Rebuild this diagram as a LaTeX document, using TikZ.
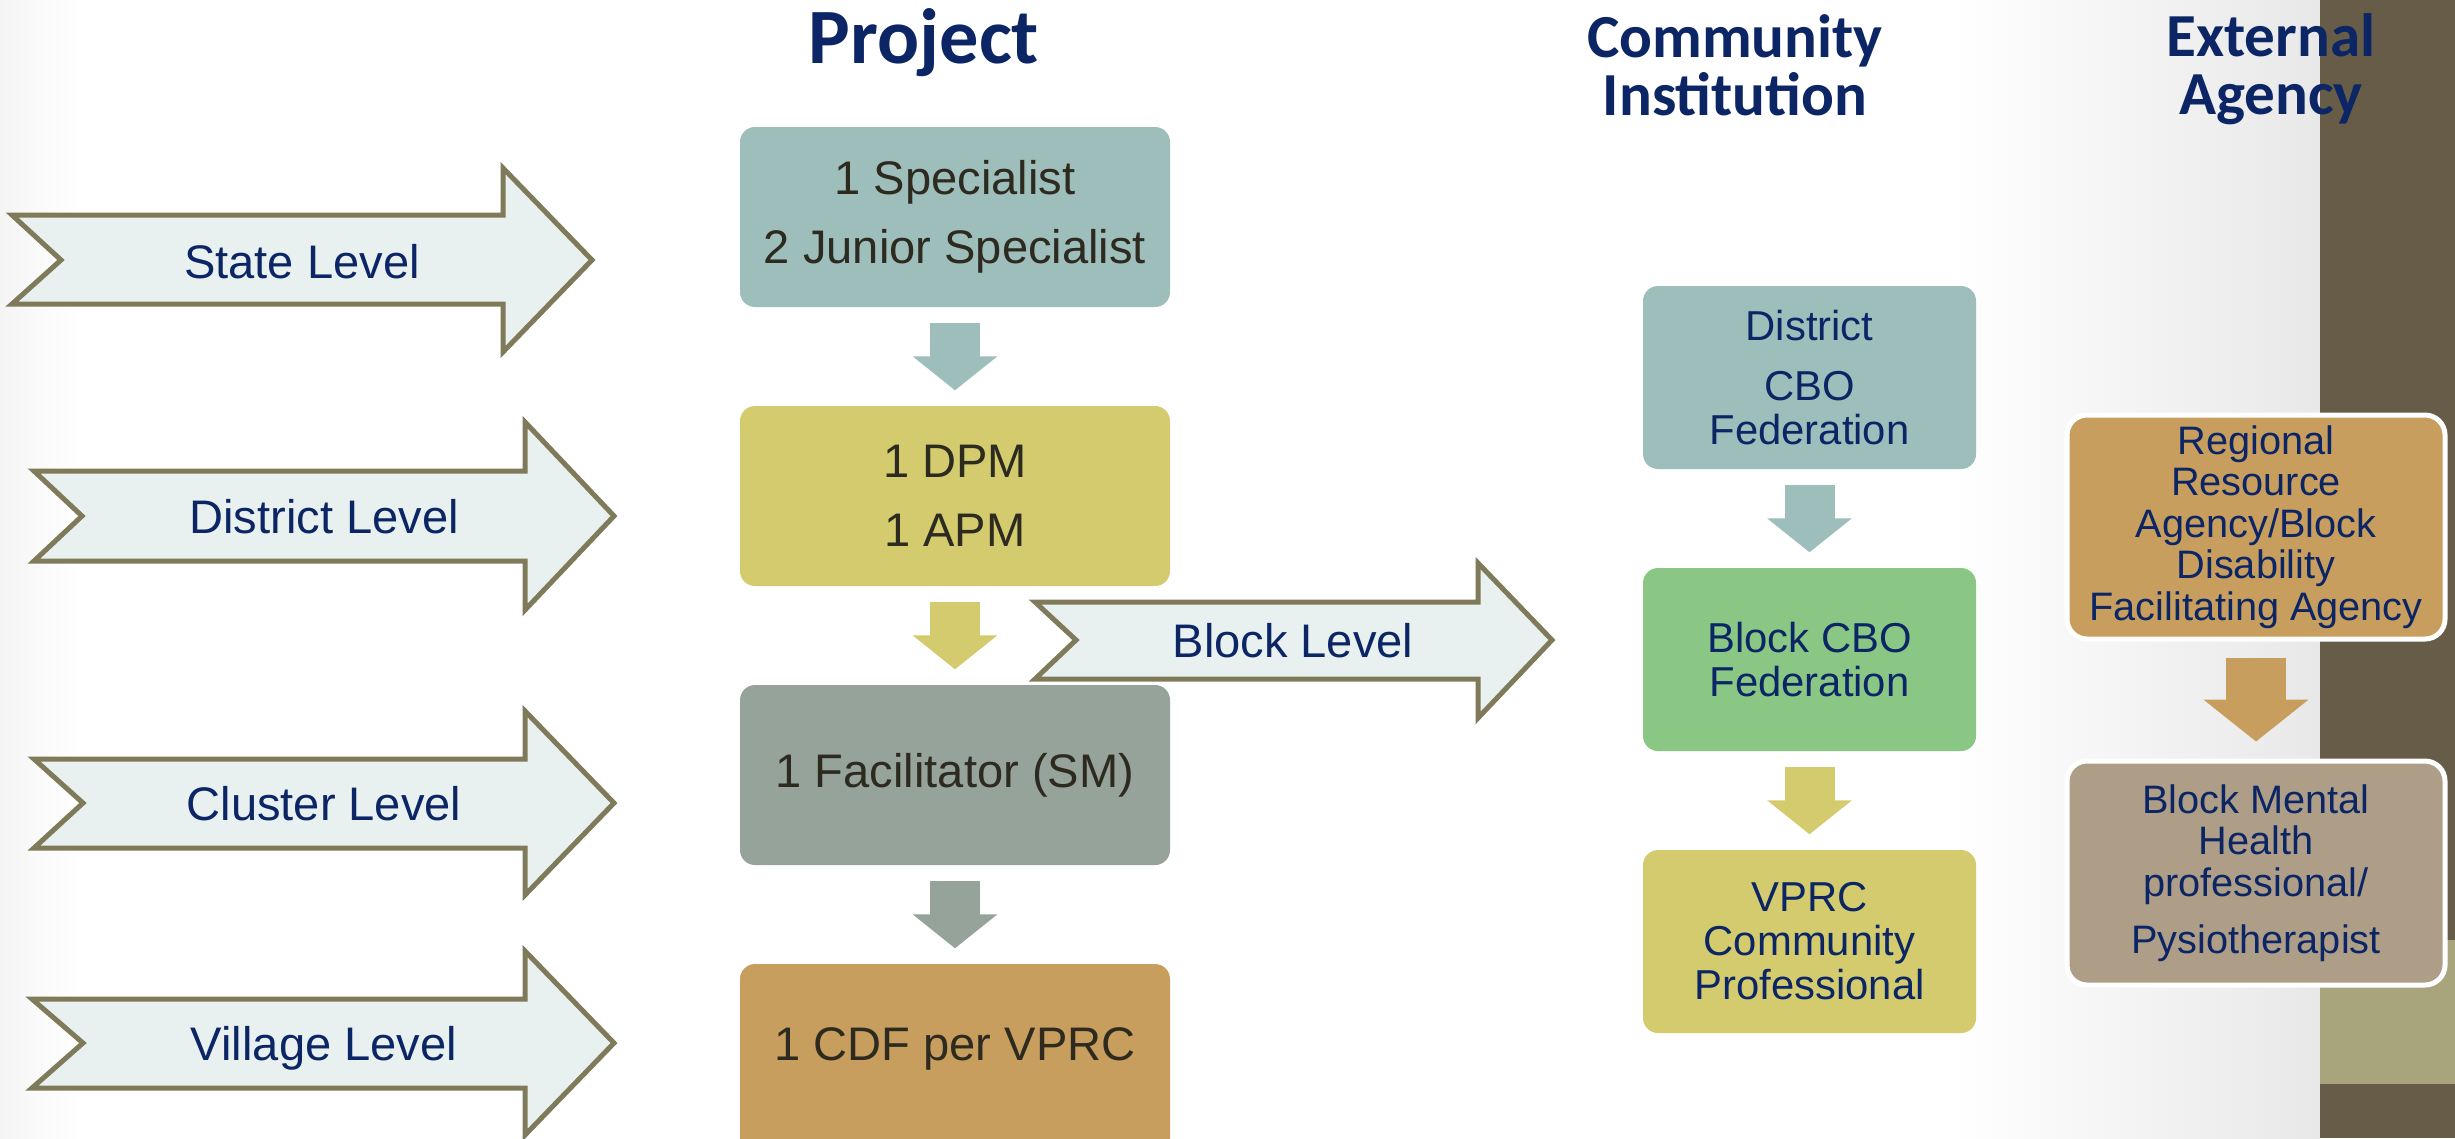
\documentclass[tikz,border=0pt]{standalone}
\usepackage{fontspec}
\setmainfont{Liberation Sans}
\newfontfamily\titlefont{Carlito}
\usetikzlibrary{arrows.meta}

\definecolor{navytext}{HTML}{0B2565}
\definecolor{darktext}{HTML}{2D2A20}
\definecolor{tealbox}{HTML}{9DBEBB}
\definecolor{olivebox}{HTML}{D3CB6E}
\definecolor{sagebox}{HTML}{95A39A}
\definecolor{tanbox}{HTML}{C89E5E}
\definecolor{greenbox}{HTML}{8AC785}
\definecolor{taupebox}{HTML}{AF9E87}
\definecolor{arrowfill}{HTML}{E8F1F0}
\definecolor{arrowline}{HTML}{7F7A5A}
\definecolor{banddark}{HTML}{665C47}
\definecolor{bandlight}{HTML}{A8A47B}

\tikzset{
  headtitle/.style={font=\titlefont\bfseries\fontsize{17.4}{16.5}\selectfont, text=navytext, align=center, inner sep=0pt},
  levelarrow/.style={draw=arrowline, fill=arrowfill, line width=0.5mm, line join=miter},
  leveltext/.style={font=\fontsize{13.4}{16}\selectfont, text=navytext, text height=9.6pt, text depth=0pt, inner sep=0pt},
  projbox/.style={rounded corners=1.5mm, minimum width=43mm, minimum height=18mm, align=center, text=darktext, font=\fontsize{13.4}{19.6}\selectfont, inner sep=0pt},
  commbox/.style={rounded corners=1.5mm, minimum width=33.3mm, minimum height=18.3mm, align=center, text=navytext, font=\fontsize{11.9}{12.5}\selectfont, inner sep=0pt},
  extbox/.style={rounded corners=2mm, draw=white, line width=0.5mm, minimum width=37.8mm, minimum height=22.4mm, align=center, text=navytext, font=\fontsize{11.3}{11.8}\selectfont, inner sep=0pt},
  downarrow/.style={line width=5mm, -{Triangle[length=3.4mm, width=8.3mm]}, shorten <=1.5mm, shorten >=1.5mm},
  bigdownarrow/.style={line width=6mm, -{Triangle[length=4.2mm, width=10.3mm]}, shorten <=1.6mm, shorten >=1.7mm},
}

\begin{document}
\begin{tikzpicture}[x=0.1mm, y=-0.1mm]
\useasboundingbox (0,0) rectangle (2455,1138);
\clip (0,0) rectangle (2455,1138);

% background
\fill[white] (0,0) rectangle (2455,1138);
\shade[left color=black!4, right color=white] (0,0) rectangle (80,1138);
\shade[left color=white, right color=black!9] (1950,0) rectangle (2320,1138);
\fill[banddark] (2320,0) rectangle (2455,1138);
\fill[bandlight] (2320,940) rectangle (2455,1084);

% headings
\node[headtitle, anchor=base, font=\titlefont\bfseries\fontsize{22.3}{24}\selectfont] (project) at (924,63) {Project};
\node[headtitle, anchor=north] (community) at (1735,14) {Community\\Institution};
\node[headtitle, anchor=north] (external) at (2271,13) {External\\Agency};

% level arrows
\draw[levelarrow] (12,215) -- (503,215) -- (503,168) -- (592,260) -- (503,352) -- (503,304) -- (12,304) -- (61,260) -- cycle;
\node[leveltext] (state) at (302,262) {State Level};
\draw[levelarrow] (34,471) -- (525,471) -- (525,422) -- (614,516) -- (525,610) -- (525,561) -- (34,561) -- (82,516) -- cycle;
\node[leveltext] (district) at (324,517) {District Level};
\draw[levelarrow] (34,759) -- (525,759) -- (525,711) -- (614,803) -- (525,895) -- (525,848) -- (34,848) -- (83,803) -- cycle;
\node[leveltext] (cluster) at (324,804) {Cluster Level};
\draw[levelarrow] (32,999) -- (525,999) -- (525,951) -- (614,1043) -- (525,1135) -- (525,1088) -- (32,1088) -- (83,1043) -- cycle;
\node[leveltext] (village) at (324,1044) {Village Level};
\draw[levelarrow] (1035,602) -- (1478,602) -- (1478,563) -- (1552,640) -- (1478,718) -- (1478,679) -- (1035,679) -- (1076,640) -- cycle;
\node[leveltext] (block) at (1293,641) {Block Level};

% project column
\node[projbox, fill=tealbox] (spec) at (955,217) {1 Specialist\\2 Junior Specialist};
\node[projbox, fill=olivebox] (dpm) at (955,496) {1 DPM\\1 APM};
\node[projbox, fill=sagebox] (facil) at (955,775) {1 Facilitator (SM)};
\node[projbox, fill=tanbox, minimum height=20mm, text depth=11.4pt] (cdf) at (955,1064) {1 CDF per VPRC};

% community institution column
\node[commbox, fill=tealbox] (distcbo) at (1809.5,377.5) {District\\[4.6pt]CBO\\Federation};
\node[commbox, fill=greenbox] (blockcbo) at (1809.5,659.5) {Block CBO\\Federation};
\node[commbox, fill=olivebox] (vprc) at (1809.5,941.5) {VPRC\\Community\\Professional};

% external agency column
\node[extbox, fill=tanbox] (regional) at (2256,527) {Regional\\Resource\\Agency/Block\\Disability\\Facilitating Agency};
\node[extbox, fill=taupebox] (mental) at (2256,873) {Block Mental\\Health\\professional/\\[4.4pt]Pysiotherapist};

% down arrows
\draw[downarrow, tealbox] (spec) -- (dpm);
\draw[downarrow, olivebox] (dpm) -- (facil);
\draw[downarrow, sagebox] (facil) -- (cdf);
\draw[downarrow, tealbox] (distcbo) -- (blockcbo);
\draw[downarrow, olivebox] (blockcbo) -- (vprc);
\draw[bigdownarrow, tanbox] (regional) -- (mental);
\end{tikzpicture}
\end{document}
